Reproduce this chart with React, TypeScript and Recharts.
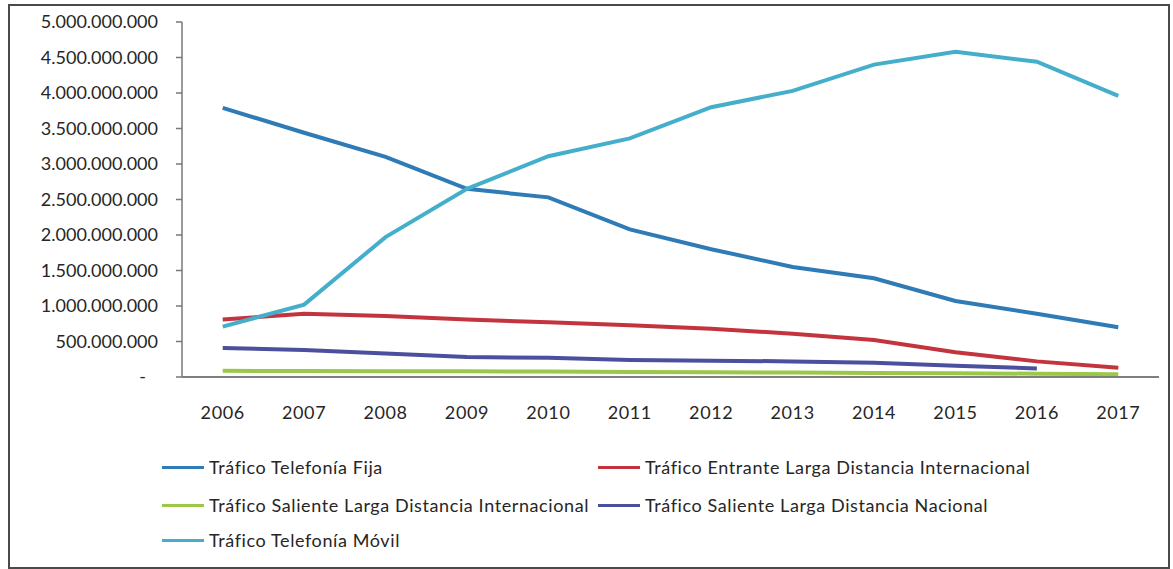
import React from 'react';
import { LineChart, Line, XAxis, YAxis } from 'recharts';

const years = ['2006', '2007', '2008', '2009', '2010', '2011', '2012', '2013', '2014', '2015', '2016', '2017'];
const fija = [3.79e9, 3.44e9, 3.1e9, 2.65e9, 2.53e9, 2.08e9, 1.8e9, 1.55e9, 1.39e9, 1.07e9, 0.89e9, 0.7e9];
const entrante = [0.81e9, 0.89e9, 0.86e9, 0.81e9, 0.77e9, 0.73e9, 0.68e9, 0.61e9, 0.52e9, 0.35e9, 0.22e9, 0.13e9];
const salienteInt = [0.087e9, 0.085e9, 0.082e9, 0.08e9, 0.077e9, 0.072e9, 0.068e9, 0.063e9, 0.058e9, 0.052e9, 0.046e9, 0.04e9];
const salienteNac = [0.41e9, 0.38e9, 0.33e9, 0.28e9, 0.27e9, 0.24e9, 0.23e9, 0.22e9, 0.2e9, 0.16e9, 0.12e9, null];
const movil = [0.71e9, 1.02e9, 1.97e9, 2.65e9, 3.11e9, 3.36e9, 3.8e9, 4.03e9, 4.4e9, 4.58e9, 4.44e9, 3.96e9];
const yTicks = [0, 5e8, 1e9, 1.5e9, 2e9, 2.5e9, 3e9, 3.5e9, 4e9, 4.5e9, 5e9];
const boundaryTicks = [0, 1, 2, 3, 4, 5, 6, 7, 8, 9, 10, 11, 12];

const series = [
  { key: 'fija', name: 'Tráfico Telefonía Fija', color: '#2E7BB6', values: fija },
  { key: 'entrante', name: 'Tráfico Entrante Larga Distancia Internacional', color: '#C3343E', values: entrante },
  { key: 'salienteInt', name: 'Tráfico Saliente Larga Distancia Internacional', color: '#9CC84A', values: salienteInt },
  { key: 'salienteNac', name: 'Tráfico Saliente Larga Distancia Nacional', color: '#4A4F9E', values: salienteNac },
  { key: 'movil', name: 'Tráfico Telefonía Móvil', color: '#45AECB', values: movil },
];

const data = years.map((year, i) => {
  const row: any = { year };
  series.forEach((s) => { row[s.key] = s.values[i]; });
  return row;
});

const FONT = 'Lato, "Open Sans", sans-serif';
const TEXT = '#262626';

const fmt = (v: number) => {
  if (v === 0) return '-';
  return Math.round(v).toString().replace(/\B(?=(\d{3})+(?!\d))/g, '.');
};

const YTick = (props: any) => {
  const { x, y, payload } = props;
  const isZero = payload.value === 0;
  return (
    <text x={isZero ? x - 12 : x} y={y} dy="0.355em" textAnchor="end" fill={TEXT} fontSize={18} fontFamily={FONT}>
      {fmt(payload.value)}
    </text>
  );
};

const legendPos = [
  { left: 162, top: 467 },
  { left: 598, top: 467 },
  { left: 162, top: 505 },
  { left: 598, top: 505 },
  { left: 162, top: 540 },
];

export default function App() {
  return (
    <div style={{ position: 'absolute', left: 0, top: 0, width: 1173, height: 569, background: '#fff', overflow: 'hidden' }}>
      <div style={{ position: 'absolute', left: 8, top: 4, width: 1158, height: 561, border: '2px solid #4a4a4a' }} />
      <div style={{ position: 'absolute', left: 0, top: 0 }}>
        <LineChart width={1173} height={569} data={data} margin={{ top: 22, right: 14, bottom: 152, left: 0 }}>
          <XAxis
            xAxisId="bounds"
            type="number"
            domain={[0, 12]}
            ticks={boundaryTicks}
            allowDataOverflow
            height={0}
            axisLine={false}
            tick={false}
            tickSize={7}
            tickLine={{ stroke: '#555', strokeWidth: 1.5 }}
          />
          <XAxis
            xAxisId="cat"
            dataKey="year"
            scale="band"
            height={40}
            interval={0}
            axisLine={{ stroke: '#555', strokeWidth: 1.5 }}
            tickLine={false}
            tickSize={0}
            tickMargin={29}
            tick={{ fill: TEXT, fontSize: 18, fontFamily: FONT, letterSpacing: 0.6 }}
          />
          <YAxis
            width={182}
            domain={[0, 5e9]}
            ticks={yTicks}
            interval={0}
            axisLine={{ stroke: '#777', strokeWidth: 1.5 }}
            tickLine={{ stroke: '#777', strokeWidth: 1.5 }}
            tickSize={6}
            tickMargin={18}
            tick={<YTick />}
          />
          {series.map((s) => (
            <Line
              key={s.key}
              xAxisId="cat"
              dataKey={s.key}
              name={s.name}
              stroke={s.color}
              strokeWidth={4}
              dot={false}
              activeDot={false}
              type="linear"
              isAnimationActive={false}
            />
          ))}
        </LineChart>
      </div>
      {series.map((s, i) => (
        <div
          key={s.key}
          style={{
            position: 'absolute',
            left: legendPos[i].left,
            top: legendPos[i].top - 12,
            height: 24,
            display: 'flex',
            alignItems: 'center',
            fontFamily: FONT,
            fontSize: 18,
            letterSpacing: 0.6,
            color: TEXT,
            whiteSpace: 'nowrap',
          }}
        >
          <span style={{ display: 'inline-block', width: 42, height: 3, background: s.color, marginRight: 5 }} />
          <span>{s.name}</span>
        </div>
      ))}
    </div>
  );
}
